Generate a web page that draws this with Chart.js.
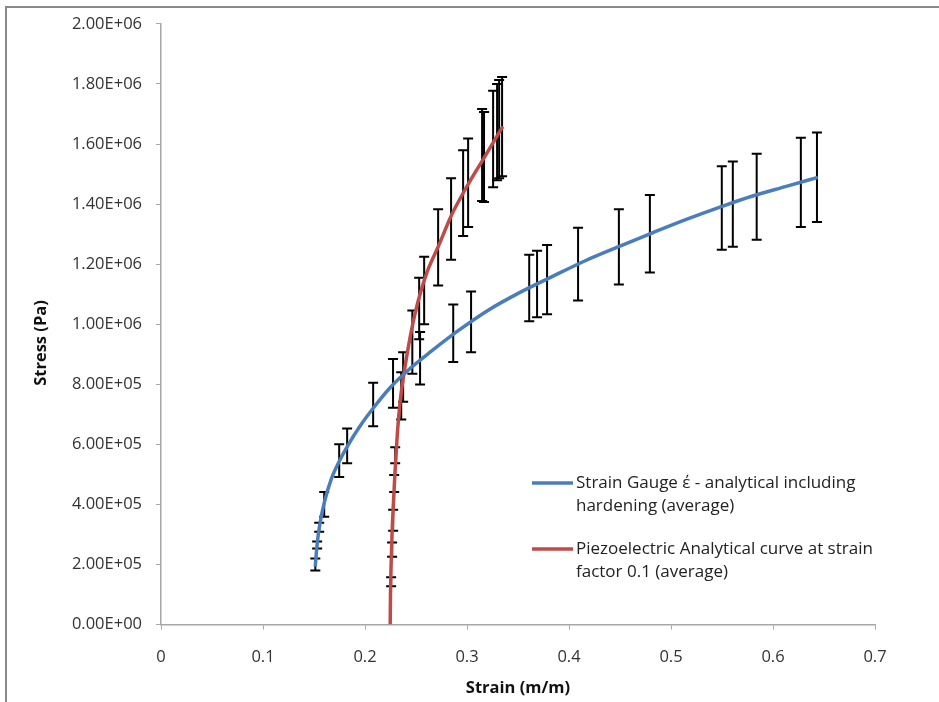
<!DOCTYPE html>
<html>
<head>
<meta charset="utf-8">
<script src="https://cdn.jsdelivr.net/npm/chart.js@4.4.1/dist/chart.umd.min.js"></script>
<style>
  html, body { margin: 0; padding: 0; background: #fff; overflow: hidden; }
  #wrap { position: relative; width: 939px; height: 702px; }
  #frame { position: absolute; left: 5px; top: 6px; width: 960px; height: 720px; border: 2px solid #8a8a8a; box-sizing: border-box; pointer-events: none; }
  canvas { position: absolute; left: 0; top: 0; }
</style>
</head>
<body>
<div id="wrap">
  <canvas id="chart" width="939" height="702"></canvas>
  <div id="frame"></div>
</div>
<script>
// axis ticks
const xTickLabels = ['0', '0.1', '0.2', '0.3', '0.4', '0.5', '0.6', '0.7'];
const yTickLabels = ['0.00E+00', '2.00E+05', '4.00E+05', '6.00E+05', '8.00E+05', '1.00E+06',
                     '1.20E+06', '1.40E+06', '1.60E+06', '1.80E+06', '2.00E+06'];

// Strain gauge curve (blue)
const gaugeStrain = [0.1512, 0.153, 0.1555, 0.16, 0.167, 0.175, 0.183, 0.195, 0.208, 0.225, 0.245, 0.265,
                     0.29, 0.32, 0.352, 0.385, 0.417, 0.45, 0.483, 0.515, 0.548, 0.58, 0.613, 0.644];
const gaugeStress = [1.93e5, 2.65e5, 3.3e5, 4.05e5, 4.85e5, 5.45e5, 5.95e5, 6.6e5, 7.2e5, 7.9e5, 8.55e5, 9.1e5,
                     9.75e5, 1.045e6, 1.106e6, 1.161e6, 1.213e6, 1.26e6, 1.306e6, 1.349e6, 1.39e6, 1.427e6, 1.459e6, 1.489e6];
// error bars on the strain gauge series
const gaugeErrX  = [0.1513, 0.1531, 0.1551, 0.16, 0.1747, 0.1825, 0.208, 0.2275, 0.2374, 0.254, 0.2865, 0.304,
                    0.361, 0.3687, 0.3785, 0.4089, 0.4489, 0.4793, 0.5498, 0.5606, 0.584, 0.6273, 0.6431];
const gaugeErrLo = [1.80e5, 2.53e5, 3.09e5, 3.59e5, 4.91e5, 5.37e5, 6.6e5, 7.22e5, 7.42e5, 7.99e5, 8.74e5, 9.07e5,
                    1.01e6, 1.023e6, 1.033e6, 1.079e6, 1.132e6, 1.172e6, 1.248e6, 1.258e6, 1.281e6, 1.324e6, 1.34e6];
const gaugeErrHi = [2.20e5, 2.76e5, 3.39e5, 4.41e5, 6.0e5, 6.53e5, 8.05e5, 8.84e5, 9.07e5, 9.74e5, 1.066e6, 1.109e6,
                    1.231e6, 1.245e6, 1.264e6, 1.321e6, 1.383e6, 1.43e6, 1.526e6, 1.542e6, 1.568e6, 1.621e6, 1.638e6];

// Piezoelectric curve (red)
const piezoStrain = [0.2247, 0.225, 0.2256, 0.2265, 0.2278, 0.2293, 0.2318, 0.2344, 0.2377, 0.2416, 0.2472, 0.2518,
                     0.261, 0.272, 0.2851, 0.2998, 0.316, 0.335];
const piezoStress = [0, 1.0e5, 2.0e5, 3.0e5, 4.0e5, 5.0e5, 6.4e5, 7.4e5, 8.25e5, 9.07e5, 1.007e6, 1.073e6,
                     1.175e6, 1.26e6, 1.365e6, 1.458e6, 1.55e6, 1.658e6];
const piezoErrX  = [0.2256, 0.2266, 0.2276, 0.2286, 0.2296, 0.2355, 0.2464, 0.2531, 0.258, 0.2717, 0.2844, 0.2962,
                    0.3011, 0.3148, 0.3167, 0.3256, 0.3295, 0.3315, 0.3344];
const piezoErrLo = [1.27e5, 2.26e5, 3.12e5, 4.41e5, 5.37e5, 6.83e5, 8.35e5, 9.5e5, 1.0e6, 1.129e6, 1.215e6, 1.294e6,
                    1.324e6, 1.41e6, 1.407e6, 1.456e6, 1.479e6, 1.486e6, 1.493e6];
const piezoErrHi = [1.57e5, 2.73e5, 3.82e5, 4.98e5, 5.9e5, 8.4e5, 1.046e6, 1.155e6, 1.225e6, 1.383e6, 1.486e6, 1.579e6,
                    1.618e6, 1.717e6, 1.707e6, 1.777e6, 1.8e6, 1.813e6, 1.823e6];

const seriesLabels = [
  ['Strain Gauge \u03AD - analytical including', 'hardening (average)'],
  ['Piezoelectric Analytical curve at strain', 'factor 0.1 (average)']
];
const yTitle = 'Stress (Pa)';

const FONT = "'Open Sans', 'DejaVu Sans', sans-serif";

function pts(xs, ys) { return xs.map((x, i) => ({x: x, y: ys[i]})); }

// black error bars, drawn under the curves
const errorBars = {
  id: 'errorBars',
  beforeDatasetsDraw(chart) {
    const ctx = chart.ctx, xs = chart.scales.x, ys = chart.scales.y;
    const sets = [[gaugeErrX, gaugeErrLo, gaugeErrHi], [piezoErrX, piezoErrLo, piezoErrHi]];
    ctx.save();
    ctx.strokeStyle = '#000';
    ctx.lineWidth = 2;
    sets.forEach(([ex, lo, hi]) => {
      ex.forEach((x, i) => {
        const px = xs.getPixelForValue(x);
        const p1 = ys.getPixelForValue(lo[i]);
        const p2 = ys.getPixelForValue(hi[i]);
        ctx.beginPath();
        ctx.moveTo(px, p1); ctx.lineTo(px, p2);
        ctx.moveTo(px - 5, p1); ctx.lineTo(px + 5, p1);
        ctx.moveTo(px - 5, p2); ctx.lineTo(px + 5, p2);
        ctx.stroke();
      });
    });
    ctx.restore();
  }
};

// legend inside the plot (two-line labels) + y axis title placed a bit low like the original
const annotations = {
  id: 'annotations',
  afterDraw(chart) {
    const ctx = chart.ctx;
    const x0 = 532, lineLen = 41, y0 = 483, rowGap = 66, lineGap = 23;
    ctx.save();
    ctx.font = '17px ' + FONT;
    ctx.textBaseline = 'middle';
    ctx.fillStyle = '#222';
    chart.data.datasets.forEach((ds, i) => {
      const y = y0 + i * rowGap;
      ctx.strokeStyle = ds.borderColor;
      ctx.lineWidth = 3.5;
      ctx.beginPath();
      ctx.moveTo(x0, y); ctx.lineTo(x0 + lineLen, y);
      ctx.stroke();
      seriesLabels[i].forEach((t, j) => ctx.fillText(t, x0 + lineLen + 3, y + j * lineGap));
    });

    ctx.translate(41, 343);
    ctx.rotate(-Math.PI / 2);
    ctx.font = 'bold 16.5px ' + FONT;
    ctx.textAlign = 'center';
    ctx.fillStyle = '#111';
    ctx.fillText(yTitle, 0, 0);
    ctx.restore();
  }
};

new Chart(document.getElementById('chart'), {
  type: 'scatter',
  data: {
    datasets: [
      {label: seriesLabels[0].join(' '), data: pts(gaugeStrain, gaugeStress), showLine: true,
       borderColor: '#4a7ebb', borderWidth: 3.5, pointRadius: 0, cubicInterpolationMode: 'monotone'},
      {label: seriesLabels[1].join(' '), data: pts(piezoStrain, piezoStress), showLine: true,
       borderColor: '#be4b48', borderWidth: 3.5, pointRadius: 0, cubicInterpolationMode: 'monotone'}
    ]
  },
  options: {
    responsive: false,
    animation: false,
    layout: {padding: {left: 0, top: 19, right: 64, bottom: 0}},
    plugins: {legend: {display: false}, tooltip: {enabled: false}},
    scales: {
      x: {
        type: 'linear', min: 0, max: 0.7,
        afterFit(s) { s.height = 77.5; },
        ticks: {stepSize: 0.1, padding: 18, color: '#333', font: {family: FONT, size: 16.5},
                callback: (v, i) => xTickLabels[i]},
        grid: {drawOnChartArea: false, drawTicks: true, tickLength: 5, color: '#a6a6a6'},
        border: {color: '#a6a6a6', width: 1.5},
        title: {display: true, text: 'Strain (m/m)', color: '#111',
                font: {family: FONT, size: 16.5, weight: 'bold'}, padding: {top: 4, bottom: 4}}
      },
      y: {
        type: 'linear', min: 0, max: 2e6,
        afterFit(s) { s.width = 161; },
        ticks: {stepSize: 2e5, padding: 14, color: '#333', font: {family: FONT, size: 16.5},
                callback: (v, i) => yTickLabels[i]},
        grid: {drawOnChartArea: false, drawTicks: true, tickLength: 5, color: '#a6a6a6'},
        border: {color: '#a6a6a6', width: 1.5}
      }
    }
  },
  plugins: [errorBars, annotations]
});
</script>
</body>
</html>
